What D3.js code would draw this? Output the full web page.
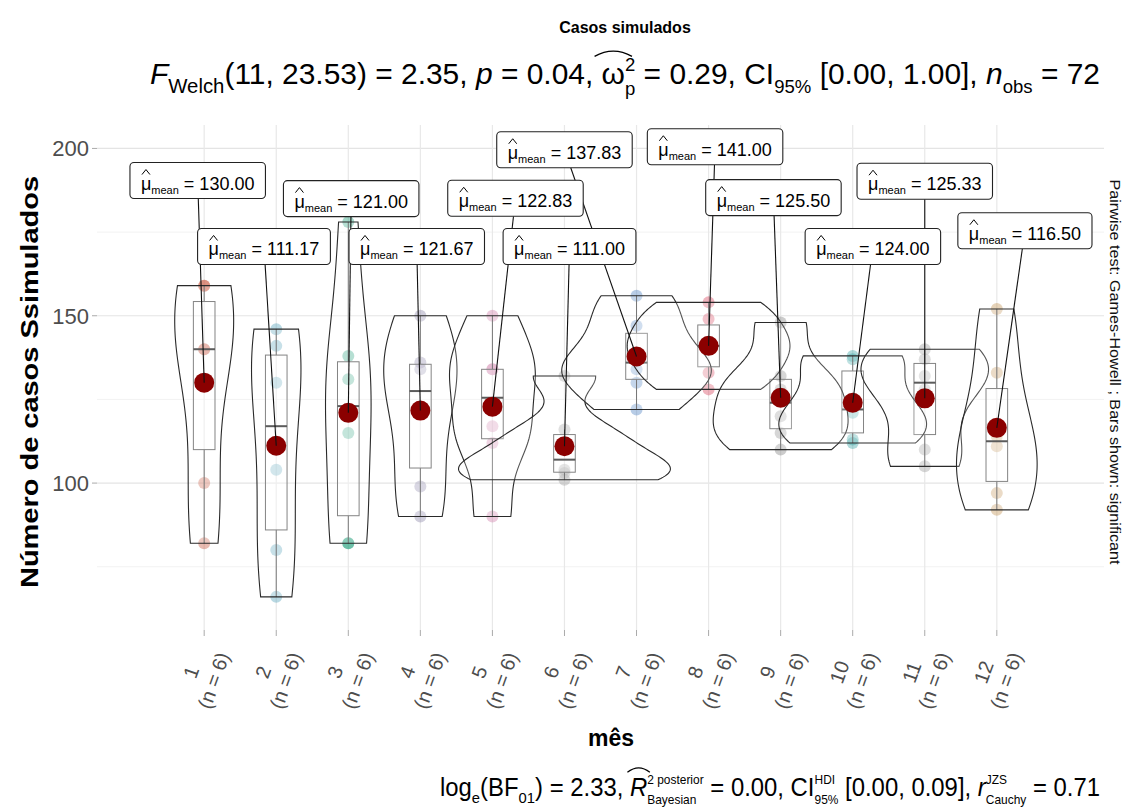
<!DOCTYPE html>
<html>
<head>
<meta charset="utf-8">
<script src="https://cdn.jsdelivr.net/npm/d3@7"></script>
<style>
  body { margin: 0; background: #fff; }
  svg { display: block; }
  text { font-family: "Liberation Sans", Arial, Helvetica, sans-serif; }
</style>
</head>
<body>
<svg id="chart" width="1129" height="812"></svg>
<script>
// ---- data: simulated monthly case counts (6 values per month) ----
const months = ["1", "2", "3", "4", "5", "6", "7", "8", "9", "10", "11", "12"];
const mes1  = [82, 100, 140, 140, 159, 159];
const mes2  = [66, 80, 104, 130, 141, 146];
const mes3  = [82, 82, 115, 131, 138, 178];
const mes4  = [90, 99, 121, 134, 136, 150];
const mes5  = [90, 112, 117, 134, 134, 150];
const mes6  = [101, 103, 104, 110, 116, 132];
const mes7  = [122, 130, 134, 138, 147, 156];
const mes8  = [128, 133, 140, 142, 149, 154];
const mes9  = [110, 115, 120, 128, 132, 148];
const mes10 = [112, 113, 121, 123, 137, 138];
const mes11 = [105, 110, 128, 132, 137, 140];
const mes12 = [92, 97, 111, 114, 133, 152];
const casos = [mes1, mes2, mes3, mes4, mes5, mes6, mes7, mes8, mes9, mes10, mes11, mes12];

const yMajorTicks = [100, 150, 200];
const yMinorTicks = [75, 125, 175];

// per-month point colours
const pointColors = ["#C8553D", "#4F9FB8", "#1B9E77", "#8A84A8", "#D07BA8", "#9E9E9E",
                     "#4A7FC1", "#D6405A", "#7F7F7F", "#36A3A3", "#9C9C9C", "#C09050"];

// placement of the repelled mean labels (x offset in category steps, y in data units)
const labelDx = [-0.09, -0.17, 0.04, -0.05, 0.32, 0.07, -1.0, 0.09, -0.10, 0.28, 0.0, 0.39];
const labelY  = [190.4, 170.7, 185.0, 170.7, 185.1, 170.7, 199.6, 200.5, 185.3, 170.7, 190.2, 175.4];

// ---- layout ----
const svg = d3.select("#chart");
const panel = { left: 97, right: 1104, top: 125, bottom: 630 };

const x = d3.scalePoint().domain(months).range([panel.left, panel.right]).padding(1.4875);
const y = d3.scaleLinear().domain([56.1, 207]).range([panel.bottom, panel.top]);
const step = x.step();

// ---- summary statistics, boxplot pieces and kernel densities ----
const stats = casos.map((vals, i) => {
  const s = vals.slice().sort(d3.ascending);
  const q1 = d3.quantile(s, 0.25), med = d3.quantile(s, 0.5), q3 = d3.quantile(s, 0.75);
  const iqr = q3 - q1;
  const lo = d3.min(s.filter(v => v >= q1 - 1.5 * iqr));
  const hi = d3.max(s.filter(v => v <= q3 + 1.5 * iqr));
  const mean = d3.mean(s);
  const sd = d3.deviation(s);
  const bw = 0.9 * Math.min(sd, iqr / 1.34) * Math.pow(s.length, -0.2);
  const a = s[0], b = s[s.length - 1];
  const dens = d3.range(81).map(k => {
    const v = a + (b - a) * k / 80;
    const d = d3.mean(s, xi => Math.exp(-0.5 * ((v - xi) / bw) ** 2) / (bw * Math.sqrt(2 * Math.PI)));
    return { v, d };
  });
  return { month: months[i], vals: s, q1, med, q3, lo, hi, mean, dens };
});
const maxDens = d3.max(stats, s => d3.max(s.dens, d => d.d));
const violinHalf = 1.47 * step;
const boxHalf = 0.15 * step;

// ---- grid ----
const grid = svg.append("g");
grid.selectAll(".hmin").data(yMinorTicks).join("line")
  .attr("x1", panel.left).attr("x2", panel.right)
  .attr("y1", d => y(d)).attr("y2", d => y(d))
  .attr("stroke", "#F2F2F2").attr("stroke-width", 1);
grid.selectAll(".hmaj").data(yMajorTicks).join("line")
  .attr("x1", panel.left).attr("x2", panel.right)
  .attr("y1", d => y(d)).attr("y2", d => y(d))
  .attr("stroke", "#E4E4E4").attr("stroke-width", 1.2);
grid.selectAll(".vmaj").data(months).join("line")
  .attr("x1", d => x(d)).attr("x2", d => x(d))
  .attr("y1", panel.top).attr("y2", panel.bottom)
  .attr("stroke", "#E8E8E8").attr("stroke-width", 1.2);

// ---- y axis ----
const yAxis = svg.append("g");
yAxis.selectAll("line").data(yMajorTicks).join("line")
  .attr("x1", panel.left - 5).attr("x2", panel.left)
  .attr("y1", d => y(d)).attr("y2", d => y(d))
  .attr("stroke", "#AAAAAA");
yAxis.selectAll("text").data(yMajorTicks).join("text")
  .attr("x", panel.left - 8).attr("y", d => y(d)).attr("dy", "0.36em")
  .attr("text-anchor", "end").attr("font-size", 22).attr("fill", "#4D4D4D")
  .text(d => d);

// ---- x axis ----
const xAxis = svg.append("g");
xAxis.selectAll("line").data(months).join("line")
  .attr("x1", d => x(d)).attr("x2", d => x(d))
  .attr("y1", panel.bottom).attr("y2", panel.bottom + 6)
  .attr("stroke", "#AAAAAA");
const xl = xAxis.selectAll("g.lab").data(stats).join("g")
  .attr("transform", d => `translate(${x(d.month)},677) rotate(-70)`);
xl.append("text").attr("text-anchor", "middle").attr("y", -7)
  .attr("font-size", 20).attr("fill", "#4D4D4D").text(d => d.month);
xl.append("text").attr("text-anchor", "middle").attr("y", 17)
  .attr("font-size", 20).attr("fill", "#4D4D4D").style("white-space", "pre")
  .text(d => `(n = ${d.vals.length})`);

// ---- data points ----
const pts = svg.append("g");
stats.forEach((s, i) => {
  pts.selectAll(null).data(s.vals).join("circle")
    .attr("cx", x(s.month)).attr("cy", d => y(d)).attr("r", 6)
    .attr("fill", pointColors[i]).attr("fill-opacity", 0.4);
});

// ---- boxplots ----
const boxes = svg.append("g");
stats.forEach(s => {
  const cx = x(s.month);
  boxes.append("line").attr("x1", cx).attr("x2", cx).attr("y1", y(s.q3)).attr("y2", y(s.hi))
    .attr("stroke", "#555").attr("stroke-width", 1);
  boxes.append("line").attr("x1", cx).attr("x2", cx).attr("y1", y(s.q1)).attr("y2", y(s.lo))
    .attr("stroke", "#555").attr("stroke-width", 1);
  boxes.append("rect").attr("x", cx - boxHalf).attr("width", 2 * boxHalf)
    .attr("y", y(s.q3)).attr("height", y(s.q1) - y(s.q3))
    .attr("fill", "#fff").attr("fill-opacity", 0.2)
    .attr("stroke", "#666").attr("stroke-width", 1);
  boxes.append("line").attr("x1", cx - boxHalf).attr("x2", cx + boxHalf)
    .attr("y1", y(s.med)).attr("y2", y(s.med))
    .attr("stroke", "#333").attr("stroke-width", 2);
});

// ---- violins ----
const violins = svg.append("g");
stats.forEach(s => {
  const cx = x(s.month);
  const area = d3.area()
    .y(d => y(d.v))
    .x0(d => cx - d.d / maxDens * violinHalf)
    .x1(d => cx + d.d / maxDens * violinHalf);
  violins.append("path").attr("d", area(s.dens))
    .attr("fill", "#fff").attr("fill-opacity", 0.2)
    .attr("stroke", "#2A2A2A").attr("stroke-width", 1.1);
});

// ---- mean points ----
svg.append("g").selectAll("circle").data(stats).join("circle")
  .attr("cx", d => x(d.month)).attr("cy", d => y(d.mean)).attr("r", 10)
  .attr("fill", "#8B0000");

// ---- mean labels with connectors ----
const segLayer = svg.append("g");
const labLayer = svg.append("g");
stats.forEach((s, i) => {
  const lx = x(s.month) + labelDx[i] * step;
  const ly = y(labelY[i]);
  const g = labLayer.append("g");
  const t = g.append("text").attr("font-size", 18).attr("fill", "#000").style("white-space", "pre");
  t.append("tspan").text("\u03BC");
  t.append("tspan").attr("font-size", 11).attr("dy", 4).text("mean");
  t.append("tspan").attr("dy", -4).text(" = " + d3.format(".2f")(s.mean));
  const w = t.node().getComputedTextLength();
  const bw = w + 22, bh = 36;
  t.attr("x", lx - w / 2).attr("y", ly + 9);
  // hat over mu
  const mx = lx - w / 2;
  g.append("path").attr("d", `M${mx + 1},${ly - 6} L${mx + 5},${ly - 11} L${mx + 9},${ly - 6}`)
    .attr("fill", "none").attr("stroke", "#000").attr("stroke-width", 1);
  g.insert("rect", "text").attr("x", lx - bw / 2).attr("y", ly - bh / 2)
    .attr("width", bw).attr("height", bh).attr("rx", 4)
    .attr("fill", "#fff").attr("stroke", "#222").attr("stroke-width", 1.1);
  // connector from box edge to the mean point
  const px = x(s.month), py = y(s.mean);
  const dx = px - lx, dy = py - ly;
  const tt = Math.min(Math.abs(dx) > 0 ? (bw / 2) / Math.abs(dx) : Infinity,
                      Math.abs(dy) > 0 ? (bh / 2) / Math.abs(dy) : Infinity);
  segLayer.append("line")
    .attr("x1", lx + dx * tt).attr("y1", ly + dy * tt)
    .attr("x2", px).attr("y2", py)
    .attr("stroke", "#111").attr("stroke-width", 1.1);
});

// ---- math-style text lines ----
function mathLine(parent, pieces, size) {
  const g = parent.append("g");
  let cx = 0;
  const place = (p, x0) => {
    const fs = size * (p.s || 1);
    const base = (p.dy || 0) * size;
    const t = g.append("text").attr("x", x0).attr("y", base)
      .attr("font-size", fs).style("white-space", "pre")
      .attr("font-style", p.it ? "italic" : null).attr("fill", "#000").text(p.t);
    const w = t.node().getComputedTextLength();
    if (p.hat) {
      const top = base - fs * 0.8 - (p.hatUp || 0) * size;
      const hw = w * (p.hatW || 1);
      g.append("path")
        .attr("d", `M${x0 + w / 2 - hw / 2},${top} Q${x0 + w / 2},${top - fs * 0.35} ${x0 + w / 2 + hw / 2},${top}`)
        .attr("fill", "none").attr("stroke", "#000").attr("stroke-width", 1.3);
    }
    return w;
  };
  pieces.forEach(p => {
    if (p.stack) cx += d3.max(p.stack.map(q => place(q, cx)));
    else cx += place(p, cx);
  });
  return { g, width: cx };
}
function fitLine(info, x0, x1, baseline) {
  const k = (x1 - x0) / info.width;
  info.g.attr("transform", `translate(${x0},${baseline}) scale(${k},1)`);
}

// title
svg.append("text").attr("x", 625).attr("y", 33).attr("text-anchor", "middle")
  .attr("font-size", 16).attr("font-weight", "bold").text("Casos simulados");

// subtitle: Welch ANOVA summary
const sub = mathLine(svg, [
  { t: "F", it: true },
  { t: "Welch", s: 0.68, dy: 0.3 },
  { t: "(11, 23.53) = 2.35, " },
  { t: "p", it: true },
  { t: " = 0.04, " },
  { t: "\u03C9", hat: true, hatW: 1.6, hatUp: 0.12 },
  { stack: [{ t: "2", s: 0.62, dy: -0.45 }, { t: "p", s: 0.62, dy: 0.38 }] },
  { t: " = 0.29, CI" },
  { t: "95%", s: 0.62, dy: 0.3 },
  { t: " [0.00, 1.00], " },
  { t: "n", it: true },
  { t: "obs", s: 0.62, dy: 0.3 },
  { t: " = 72" }
], 30);
fitLine(sub, 150, 1100, 84);

// caption: Bayesian summary
const cap = mathLine(svg, [
  { t: "log" },
  { t: "e", s: 0.62, dy: 0.28 },
  { t: "(BF" },
  { t: "01", s: 0.62, dy: 0.28 },
  { t: ") = 2.33, " },
  { t: "R", it: true, hat: true, hatW: 1.3, hatUp: 0.15 },
  { stack: [{ t: "2 posterior", s: 0.5, dy: -0.5 }, { t: "Bayesian", s: 0.5, dy: 0.3 }] },
  { t: " = 0.00, CI" },
  { stack: [{ t: "HDI", s: 0.5, dy: -0.5 }, { t: "95%", s: 0.5, dy: 0.3 }] },
  { t: " [0.00, 0.09], " },
  { t: "r", it: true },
  { stack: [{ t: "JZS", s: 0.5, dy: -0.5 }, { t: "Cauchy", s: 0.5, dy: 0.3 }] },
  { t: " = 0.71" }
], 25);
fitLine(cap, 440, 1100, 796);

// axis titles
svg.append("text").attr("x", 611).attr("y", 746).attr("text-anchor", "middle")
  .attr("font-size", 23).attr("font-weight", "bold").text("m\u00EAs");
svg.append("text").attr("transform", "translate(38,382) rotate(-90)")
  .attr("text-anchor", "middle").attr("font-size", 24).attr("font-weight", "bold")
  .attr("textLength", 412).attr("lengthAdjust", "spacingAndGlyphs")
  .text("N\u00FAmero de casos Ssimulados");

// secondary axis note on the right
svg.append("text").attr("transform", "translate(1110,372) rotate(90)")
  .attr("text-anchor", "middle").attr("font-size", 14).attr("fill", "#111")
  .attr("textLength", 385).attr("lengthAdjust", "spacingAndGlyphs")
  .text("Pairwise test: Games-Howell ; Bars shown: significant");
</script>
</body>
</html>
